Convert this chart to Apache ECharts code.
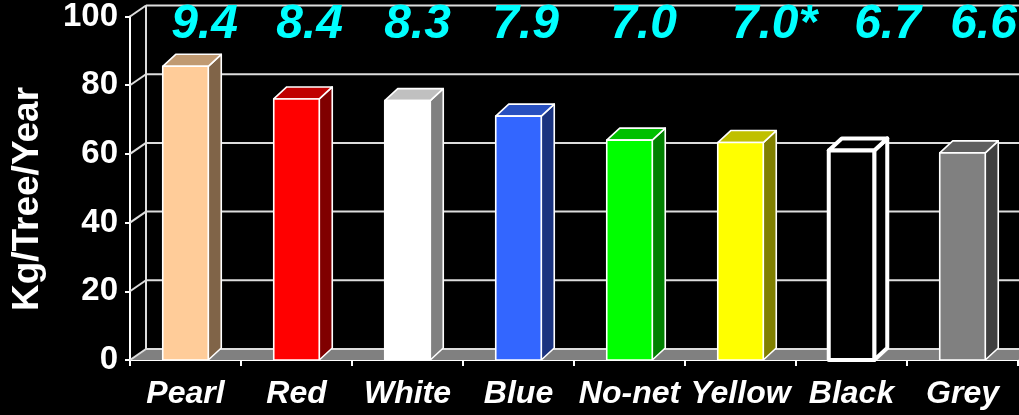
<!DOCTYPE html>
<html>
<head>
<meta charset="utf-8">
<script src="https://cdn.jsdelivr.net/npm/echarts@6/dist/echarts.min.js"></script>
<style>
html,body{margin:0;padding:0;background:#000;}
#c{width:1019px;height:415px;}
</style>
</head>
<body>
<div id="c"></div>
<script>
// ---- data ----
const categories = ['Pearl', 'Red', 'White', 'Blue', 'No-net', 'Yellow', 'Black', 'Grey'];
const yields = [85.5, 76, 75.5, 71, 64, 63.3, 61, 60.3];
const valueLabels = ['9.4', '8.4', '8.3', '7.9', '7.0', '7.0*', '6.7', '6.6'];
const yTicks = [0, 20, 40, 60, 80, 100];
const yTitle = 'Kg/Tree/Year';

// ---- styles / layout ----
const FONT = 'Liberation Sans';
const barColors = [
  ['#FFCC99', '#C09A72', '#806448'],
  ['#FF0000', '#C00000', '#800000'],
  ['#FFFFFF', '#C0C0C0', '#808080'],
  ['#3366FF', '#2850C0', '#1A3380'],
  ['#00FF00', '#00C000', '#008000'],
  ['#FFFF00', '#C0C000', '#808000'],
  ['#000000', '#000000', '#000000'],
  ['#808080', '#606060', '#404040']
];
const labelDx = [19, 13, 10, 7, 14, 34, 36, 21];
const WDX = 16, WDY = 11;   // wall depth
const BDX = 13, BDY = 12;   // bar depth
const GRID_COLOR = '#dddddd';

const chart = echarts.init(document.getElementById('c'));

function renderFrame(params, api) {
  const cs = params.coordSys;
  const v = api.value(1);
  const y = api.coord([0, v])[1];
  const x0 = cs.x, x1 = cs.x + cs.width;
  const ch = [];
  if (v === 0) {
    ch.push({type: 'polygon', shape: {points: [[x0, y], [x0 + WDX, y - WDY], [x1 + WDX, y - WDY], [x1, y]]},
      style: {fill: '#808080'}});
  }
  ch.push({type: 'line', shape: {x1: x0, y1: y, x2: x0 + WDX, y2: y - WDY}, style: {stroke: GRID_COLOR, lineWidth: 2}});
  ch.push({type: 'line', shape: {x1: x0 + WDX, y1: y - WDY, x2: x1 + WDX, y2: y - WDY}, style: {stroke: GRID_COLOR, lineWidth: 2}});
  if (v === yTicks[yTicks.length - 1]) {
    const yb = api.coord([0, 0])[1];
    ch.push({type: 'line', shape: {x1: x0 + WDX, y1: y - WDY, x2: x0 + WDX, y2: yb - WDY}, style: {stroke: GRID_COLOR, lineWidth: 2}});
  }
  return {type: 'group', children: ch};
}

function renderBar(params, api) {
  const i = params.dataIndex;
  const v = api.value(1);
  const top = api.coord([i, v]);
  const base = api.coord([i, 0]);
  const bw = api.size([1, 0])[0] * 0.41;
  const L = top[0] - bw / 2, R = top[0] + bw / 2;
  const yt = top[1], yb = base[1];
  const c = barColors[i];
  const lw = (i === 6) ? 4 : 1.6;
  const st = (fill) => ({fill: fill, stroke: '#ffffff', lineWidth: lw, lineJoin: 'round'});
  return {type: 'group', children: [
    {type: 'polygon', shape: {points: [[R, yt], [R + BDX, yt - BDY], [R + BDX, yb - BDY], [R, yb]]}, style: st(c[2])},
    {type: 'polygon', shape: {points: [[L, yt], [R, yt], [R + BDX, yt - BDY], [L + BDX, yt - BDY]]}, style: st(c[1])},
    {type: 'rect', shape: {x: L, y: yt, width: bw, height: yb - yt}, style: st(c[0])}
  ]};
}

function renderLabel(params, api) {
  const i = params.dataIndex;
  const p = api.coord([i, 0]);
  return {type: 'text', x: p[0] + labelDx[i], y: 25,
    style: {text: valueLabels[i], fill: '#00FFFF', fontSize: 48, fontWeight: 'bold', fontStyle: 'italic',
      fontFamily: FONT, align: 'center', verticalAlign: 'middle'}};
}

chart.setOption({
  backgroundColor: '#000000',
  animation: false,
  grid: {left: 130, right: 1, top: 15, bottom: 55},
  xAxis: {
    type: 'category', data: categories,
    axisLine: {lineStyle: {color: '#ffffff', width: 2}},
    axisTick: {show: true, length: 6, lineStyle: {color: '#ffffff', width: 2}},
    axisLabel: {color: '#ffffff', fontSize: 32, fontWeight: 'bold', fontStyle: 'italic', fontFamily: FONT, margin: 18, interval: 0},
    splitLine: {show: false}
  },
  yAxis: {
    type: 'value', min: 0, max: 100, interval: 20,
    axisLine: {show: true, lineStyle: {color: '#ffffff', width: 2}},
    axisTick: {show: true, length: 5, lineStyle: {color: '#ffffff', width: 2}},
    axisLabel: {color: '#ffffff', fontSize: 33, fontWeight: 'bold', fontFamily: FONT, margin: 12},
    splitLine: {show: false}
  },
  graphic: [{
    type: 'text', x: 28, y: 199, rotation: Math.PI / 2,
    style: {text: yTitle, fill: '#ffffff', fontSize: 37, fontWeight: 'bold', fontFamily: FONT, align: 'center', verticalAlign: 'middle'}
  }],
  series: [
    {type: 'custom', z: 1, renderItem: renderFrame, data: yTicks.map(v => [0, v]), silent: true, clip: false},
    {type: 'custom', z: 3, renderItem: renderBar, data: yields.map((v, i) => [i, v]), clip: false},
    {type: 'custom', z: 4, renderItem: renderLabel, data: valueLabels.map((s, i) => [i, 0]), clip: false}
  ]
});
</script>
</body>
</html>
